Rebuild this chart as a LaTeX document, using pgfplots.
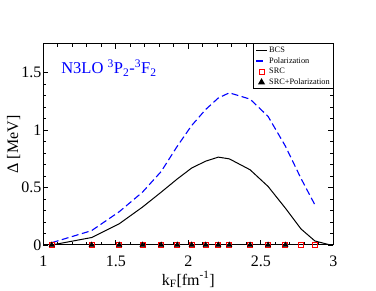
\documentclass[border=0pt]{standalone}
\usepackage{fontspec}
\setmainfont{Liberation Serif}
\usepackage{pgfplots}
\pgfplotsset{compat=1.18}
\begin{document}
\begin{tikzpicture}
\useasboundingbox (-43.3pt,-46pt) rectangle (332.7pt,245pt);
\begin{axis}[
 at={(0pt,0pt)}, anchor=south west,
 scale only axis, width=290pt, height=201pt,
 xmin=1, xmax=3, ymin=0, ymax=1.75,
 xtick={1,1.5,2,2.5,3}, ytick={0,0.5,1,1.5},
 minor tick num=4,
 tick align=inside,
 major tick length=5pt, minor tick length=3pt,
 tick style={black, line width=0.8pt},
 axis line style={line width=1pt},
 clip=false,
 /pgf/number format/assume math mode=true,
 ticklabel style={font=\fontsize{16}{18}\selectfont},
 xticklabel style={anchor=base, yshift=-22pt},
 yticklabel style={anchor=east, inner sep=0pt, xshift=-1.6pt},
 xlabel={k\textsubscript{F}[fm\textsuperscript{-1}]},
 ylabel={Δ [MeV]},
 label style={font=\fontsize{16}{18}\selectfont},
 xlabel style={at={(axis description cs:0.5,-0.2)}, anchor=base},
 ylabel style={at={(axis description cs:-0.087,0.5)}, anchor=base},
 legend image code/.code={\draw[mark repeat=2,mark phase=2,#1] plot coordinates {(0cm,0cm) (0.18cm,0cm) (0.36cm,0cm)};},
 legend style={at={(1.003,1.003)}, anchor=north east, font=\fontsize{8.3}{8.3}\selectfont, draw=black, line width=1pt, inner xsep=2pt, inner ysep=1pt, row sep=-0.5pt, cells={anchor=west}},
]
\addplot[black, line width=1pt] coordinates {
(1.058,0.0) (1.333,0.065) (1.524,0.185) (1.684,0.33) (1.813,0.46) (1.924,0.575)
(2.023,0.67) (2.12,0.73) (2.207,0.765) (2.283,0.75) (2.426,0.655) (2.55,0.51)
(2.67,0.32) (2.777,0.14) (2.873,0.035) (2.98,0.0)};
\addplot[blue, line width=1.1pt, dash pattern=on 7pt off 3.5pt] coordinates {
(1.058,0.02) (1.333,0.125) (1.524,0.29) (1.684,0.46) (1.813,0.64) (1.924,0.86)
(2.023,1.04) (2.12,1.18) (2.207,1.28) (2.283,1.325) (2.426,1.27) (2.55,1.12)
(2.67,0.86) (2.777,0.58) (2.873,0.35)};
\addplot[red, only marks, mark=square, mark size=2.5pt, line width=0.9pt] coordinates {
(1.058,0) (1.333,0) (1.524,0) (1.684,0) (1.813,0) (1.924,0) (2.023,0) (2.12,0)
(2.207,0) (2.283,0) (2.426,0) (2.55,0) (2.67,0) (2.777,0) (2.873,0)};
\addplot[black, only marks, mark=triangle*, mark size=3.1pt] coordinates {
(1.058,0) (1.333,0) (1.524,0) (1.684,0) (1.813,0) (1.924,0) (2.023,0) (2.12,0)
(2.207,0) (2.283,0) (2.426,0) (2.55,0) (2.67,0)};
\legend{BCS, Polarization, SRC, SRC+Polarization}
\node[anchor=base west, text=blue, font=\fontsize{16.5}{18}\selectfont] at (axis cs:1.1,1.493) {N3LO \textsuperscript{3}P\textsubscript{2}-\textsuperscript{3}F\textsubscript{2}};
\end{axis}
\end{tikzpicture}
\end{document}
